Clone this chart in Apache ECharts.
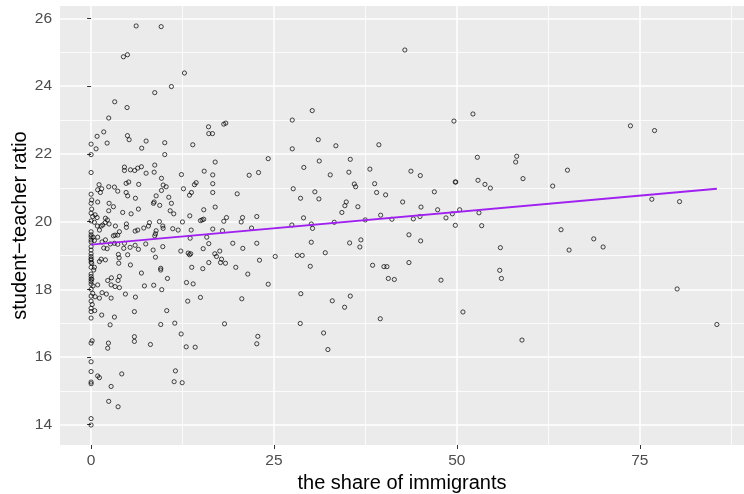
<!DOCTYPE html>
<html>
<head>
<meta charset="utf-8">
<script src="https://cdn.jsdelivr.net/npm/echarts@6/dist/echarts.min.js"></script>
<style>
html,body{margin:0;padding:0;background:#fff;}
#chart{width:744px;height:494px;}
</style>
</head>
<body>
<div id="chart"></div>
<script>
// share of immigrants (x) and student-teacher ratio (y)
const immigrants = [
4.42,4.97,3.23,4.92,2.41,1.73,0.82,0,0.68,2.19,4.97,5.2,6.16,7.52,6.92,
0,0,4.56,4.56,5.38,5.96,6.37,6.88,7.52,6.51,4.79,5.14,1.09,2.41,3.19,3.64,1.45,0.9,1.27,0,0.08,0,4.79,5.0,0.9,6.06,2.46,3.05,2.41,4.32,5.47,6.47,
0.08,0,0.22,0.55,0.82,0,0.45,1.96,2.23,1.92,1.59,2.46,1.37,1.14,0.86,3.32,3.87,3.64,3.05,4.83,4.83,6.02,6.37,7.2,7.84,
0,0.27,0,0.45,0.9,1.5,1.96,1.73,2.19,2.64,3.28,3.19,3.64,4.56,4.46,5.33,6.02,6.47,7.47,3.73,3.83,3.78,5.0,5.38,
0,0,0,0,0,0.08,0.45,0.36,1.14,1.37,1.96,6.88,0,0,0.27,0,0.22,0.55,0.9,1.5,2.09,2.27,2.78,2.74,3.28,3.87,3.69,3.87,4.69,6.06,7.29,2.74,1.14,
0,0,0,0,0,0,0,0,0.1,0,0,0,0.15,
0,0.49,0,1.45,0,3.19,2.6,0,0.14,2.37,2.27,5.92,5.92,0,0,0.9,1.14,0,0,4.19,2.74,2.41,3.69,0,0,
5.92,10.34,9.52,11.44,18.24,12.31,8.11,13.0,14.23,11.53,11.35,12.45,13.21,
9.58,12.76,10.98,8.7,16.05,16.09,16.59,18.14,18.41,10.07,13.9,
10.07,8.7,8.62,16.96,15.46,16.63,16.63,16.63,12.35,9.62,9.85,10.26,9.62,14.13,14.36,12.63,13.72,13.45,19.97,8.89,8.62,8.52,10.62,10.98,9.38,10.81,11.3,15.4,16.96,13.49,
14.95,15.18,15.4,12.49,7.98,9.34,9.8,9.85,8.89,8.7,8.8,11.16,11.9,13.68,16.63,17.96,18.51,18.14,13.54,15.81,16.09,19.37,8.48,8.8,9.8,12.26,13.27,13.45,13.62,15.32,
16.09,16.91,17.14,17.59,17.83,18.37,17.69,19.78,9.52,9.52,13.76,15.27,10.44,8.56,9.66,13.04,13.95,14.95,
30.23,27.5,31.05,33.46,39.34,27.5,24.21,29.08,31.19,35.43,21.61,22.89,32.69,35.24,38.11,35.98,36.16,38.76,39.03,40.26,27.63,30.59,28.63,31.14,42.59,34.88,34.69,36.47,34.28,
20.7,20.52,22.65,21.93,29.04,27.44,30.1,30.27,33.24,37.48,39.58,41.12,20.74,22.65,30.1,35.34,36.88,36.74,23.02,25.17,28.18,28.86,32.01,29.96,38.48,40.03,40.44,21.42,40.63,41.45,
24.21,20.6,28.67,32.97,35.43,34.65,39.53,28.59,31.78,22.79,22.65,32.37,42.89,
52.2,49.6,52.8,58.18,58.04,43.72,45.0,49.78,49.85,52.89,53.84,54.58,59.04,63.1,65.12,46.92,45.1,44.05,44.95,47.37,48.51,49.38,50.38,49.79,53.02,53.39,43.45,45.05,64.24,65.34,
55.95,43.45,47.83,55.86,56.09,50.83,58.9,
73.73,77.02,76.65,80.44,68.71,69.99,80.11,85.54
];
const ratio = [
24.87,24.93,23.54,23.37,23.06,22.65,22.52,22.29,22.15,22.32,22.54,22.42,25.78,22.38,22.17,
21.98,21.45,21.61,21.51,21.53,21.51,21.58,21.62,21.43,21.1,21.13,21.17,21.09,21.03,21.02,20.9,20.97,20.94,20.86,20.81,20.64,20.54,20.86,20.76,20.58,20.69,20.54,20.44,20.32,20.27,20.23,20.37,
20.37,20.25,20.15,20.2,20.12,20.02,19.98,20.1,20.05,19.97,19.9,19.93,19.87,19.75,19.87,19.87,19.7,19.6,19.58,19.93,19.83,19.72,19.75,19.81,19.87,
19.61,19.54,19.46,19.44,19.54,19.4,19.46,19.22,19.2,19.34,19.6,19.36,19.33,19.36,19.21,19.24,19.3,19.18,19.34,19.03,18.93,18.77,19.02,18.72,
19.26,19.16,19.05,18.97,18.87,18.77,18.65,18.57,18.82,18.89,18.87,18.48,18.38,18.23,18.1,18.0,17.88,17.78,18.13,17.9,17.86,18.26,18.34,18.13,18.08,18.38,18.26,18.05,17.86,17.77,18.1,17.74,17.74,
19.7,19.55,19.4,18.9,18.8,18.65,18.45,18.3,18.3,18.15,17.8,17.65,17.55,
17.44,17.37,17.34,17.24,17.15,17.18,16.95,16.41,16.48,16.41,16.26,16.6,16.46,15.86,15.57,15.44,15.39,15.26,15.21,15.5,15.13,14.69,14.53,14.18,13.99,
17.34,17.37,16.96,17.0,16.98,16.68,16.37,16.3,16.29,15.59,15.27,15.24,17.65,
25.76,24.39,23.99,23.81,22.8,22.6,22.6,22.88,22.91,22.33,22.27,
21.98,21.67,21.46,21.76,21.49,21.38,21.12,20.86,21.39,21.28,21.08,21.03,20.92,21.09,21.15,20.97,20.86,20.78,20.82,20.76,20.58,20.54,20.72,20.54,20.48,20.32,20.23,20.35,20.43,20.17,
20.03,20.05,20.07,19.99,19.97,20.0,19.87,19.8,19.73,19.58,19.64,19.79,19.75,19.75,19.78,19.73,20.12,20.01,19.51,19.54,19.35,19.36,19.16,18.95,19.26,19.13,19.07,19.02,19.05,19.2,
18.79,19.05,18.97,19.13,18.89,18.77,18.79,18.65,18.62,18.57,18.65,18.61,18.32,18.12,17.99,18.2,18.16,17.76,
23.28,23.0,22.42,22.24,22.27,22.15,21.86,21.6,21.79,21.84,21.37,21.45,21.38,21.46,21.55,21.11,21.03,21.12,20.86,20.79,20.97,20.88,20.69,20.67,20.58,20.58,20.47,20.44,20.27,
20.12,19.99,20.15,19.81,20.11,19.9,19.93,19.8,19.98,20.05,20.19,20.07,19.21,19.36,19.39,19.37,19.46,19.25,18.86,18.97,19.0,19.0,19.08,18.68,18.71,18.67,18.67,18.45,18.32,18.29,
18.15,17.72,17.87,17.66,17.8,17.47,17.13,16.99,16.71,16.61,16.39,16.22,25.07,
23.18,22.97,21.9,21.93,21.76,21.49,21.36,21.17,21.17,21.22,21.1,20.99,21.27,21.05,21.52,20.88,20.43,20.08,20.15,20.35,20.11,20.23,20.35,19.89,20.26,19.88,19.61,19.43,19.76,19.16,
19.23,18.79,18.27,18.56,18.32,17.33,16.5,
22.83,22.69,20.66,20.59,19.49,19.25,18.01,16.96
];
// fitted line endpoints
const fitX = [0, 85.54];
const fitY = [19.32, 20.97];
// tick labels
const xTicks = [0, 25, 50, 75];
const xMinor = [12.5, 37.5, 62.5, 87.5];
const yTicks = [14, 16, 18, 20, 22, 24, 26];
const yMinor = [15, 17, 19, 21, 23, 25];

const FONT = "'Liberation Sans', Arial, sans-serif";
const points = immigrants.map((v, i) => [v, ratio[i]]);
const fit = fitX.map((v, i) => [v, fitY[i]]);

const xMin = -4.25, xMax = 89.25, yMin = 13.4, yMax = 26.37;

const chart = echarts.init(document.getElementById('chart'), null, {renderer: 'canvas'});
chart.setOption({
  animation: false,
  grid: {left: 60, right: 0, top: 6, bottom: 49, show: true, backgroundColor: '#EBEBEB', borderWidth: 0,
         containLabel: false, outerBoundsMode: 'none'},
  xAxis: [{
    type: 'value', min: xMin, max: xMax,
    name: 'the share of immigrants', nameLocation: 'middle', nameGap: 25,
    nameTextStyle: {fontFamily: FONT, fontSize: 20, color: '#000'},
    axisLine: {show: false},
    axisTick: {show: true, customValues: xTicks, length: 4, lineStyle: {color: '#333', width: 1}},
    axisLabel: {customValues: xTicks, fontFamily: FONT, fontSize: 15.5, color: '#4D4D4D', margin: 8},
    splitLine: {show: true, lineStyle: {color: '#fff', width: 1.5}}
  }, {
    type: 'value', min: xMin, max: xMax, position: 'bottom',
    axisLine: {show: false},
    axisTick: {show: false, customValues: xMinor},
    axisLabel: {show: false, customValues: xMinor},
    splitLine: {show: true, lineStyle: {color: '#fff', width: 0.8}}
  }],
  yAxis: [{
    type: 'value', min: yMin, max: yMax,
    name: 'student\u2212teacher ratio', nameLocation: 'middle', nameGap: 30, nameRotate: 90,
    nameMoveOverlap: false,
    nameTextStyle: {fontFamily: FONT, fontSize: 20, color: '#000'},
    axisLine: {show: false},
    axisTick: {show: true, customValues: yTicks, length: 4, lineStyle: {color: '#333', width: 1}},
    axisLabel: {customValues: yTicks, fontFamily: FONT, fontSize: 15.5, color: '#4D4D4D', margin: 8},
    splitLine: {show: true, lineStyle: {color: '#fff', width: 1.5}}
  }, {
    type: 'value', min: yMin, max: yMax, position: 'left',
    axisLine: {show: false},
    axisTick: {show: false, customValues: yMinor},
    axisLabel: {show: false, customValues: yMinor},
    splitLine: {show: true, lineStyle: {color: '#fff', width: 0.8}}
  }],
  series: [{
    type: 'scatter', data: points, symbol: 'circle', symbolSize: 4.2,
    itemStyle: {color: 'rgba(0,0,0,0)', borderColor: '#000', borderWidth: 0.9},
    emphasis: {disabled: true}, z: 2
  }, {
    type: 'line', data: fit, showSymbol: false, symbol: 'none',
    lineStyle: {color: '#A020F0', width: 2}, z: 3
  }]
});
</script>
</body>
</html>
